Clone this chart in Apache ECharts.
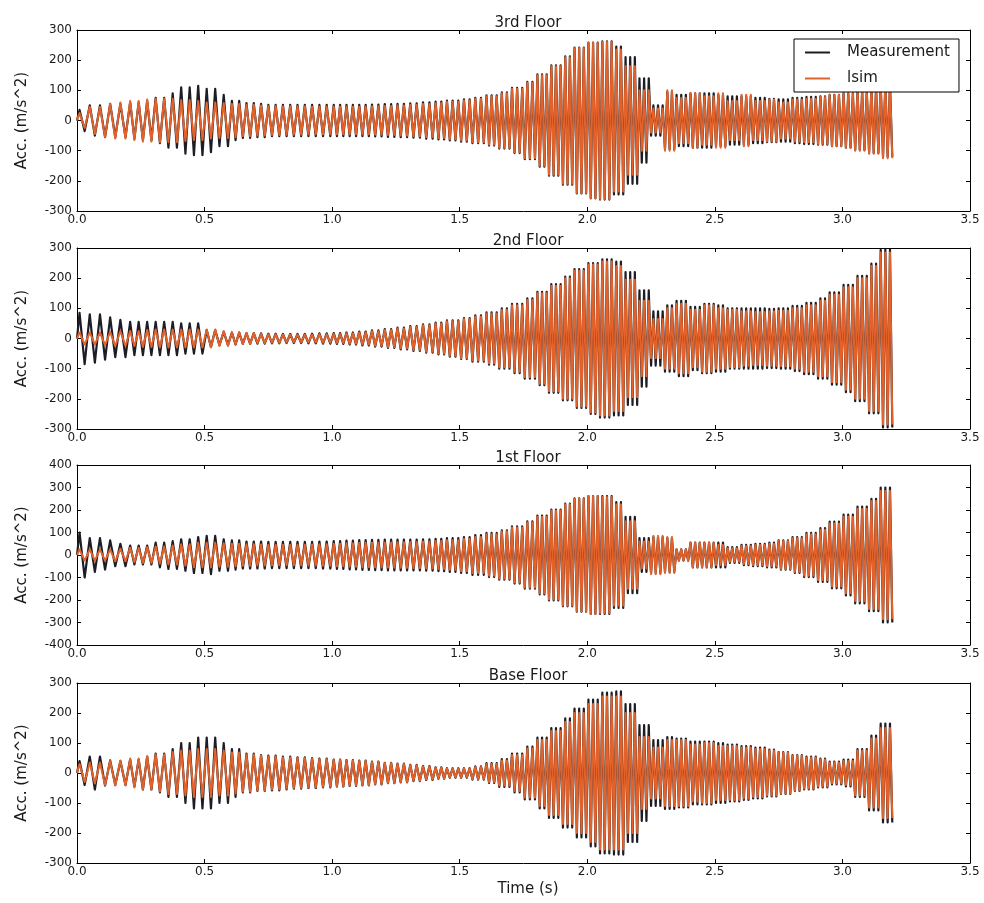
<!DOCTYPE html>
<html>
<head>
<meta charset="utf-8">
<script src="https://cdn.jsdelivr.net/npm/echarts@6/dist/echarts.min.js"></script>
<style>
html,body{margin:0;padding:0;background:#fff;}
#chart{width:984px;height:903px;}
</style>
</head>
<body>
<div id="chart"></div>
<script>
// ---------- data ----------
const panelTitles = ['3rd Floor', '2nd Floor', '1st Floor', 'Base Floor'];
const seriesNames = ['Measurement', 'lsim'];
const xTicks = [0.0, 0.5, 1.0, 1.5, 2.0, 2.5, 3.0, 3.5];
const yRanges = [[-300, 300], [-300, 300], [-400, 400], [-300, 300]];

// oscillation cycles counted in each 0.2 s window (0.0-0.2, 0.2-0.4, ... 3.0-3.2)
const cyclesPerWindow = [5, 6, 6, 7, 7, 8, 8, 9, 10, 11, 11, 11, 11, 11, 11, 11];

// peak amplitude (m/s^2) per 0.05 s window, 0.00 .. 3.15
const meas3rd = [35,50,55,55,60,65,75,90,110,115,105,85,65,58,55,52,52,52,52,52,
  52,52,52,53,54,55,57,60,63,66,70,75,83,93,108,128,153,183,213,242,
  258,262,245,210,140,50,95,85,90,90,85,80,80,75,72,70,75,78,80,85,
  90,98,108,120];
const lsim3rd = [25,45,55,60,65,70,72,72,68,65,60,58,55,52,50,48,47,47,46,46,
  46,46,46,47,48,50,52,55,58,62,66,72,80,90,105,125,150,180,210,240,
  258,260,235,180,100,40,100,75,90,80,90,65,85,65,70,60,70,72,78,85,
  90,100,110,125];

const meas2nd = [85,80,70,62,55,55,55,55,50,50,28,22,20,18,17,16,15,15,16,17,
  18,20,23,27,31,36,41,47,53,60,68,77,87,100,115,133,155,180,205,230,
  250,262,255,220,160,90,110,125,105,115,110,100,100,100,98,100,108,118,133,153,
  178,208,248,295];
const lsim2nd = [20,20,22,25,25,28,30,30,30,30,30,25,20,18,15,14,13,13,13,14,
  15,17,20,24,28,33,38,44,50,57,65,73,83,95,110,128,150,175,200,225,
  245,255,240,195,125,65,100,115,95,110,100,95,90,88,90,92,100,110,125,145,
  170,200,240,285];

const meas1st = [100,75,65,50,42,42,55,62,70,80,85,70,65,60,60,58,58,58,58,60,
  62,64,66,67,68,68,68,70,72,75,80,88,98,110,127,150,175,202,228,252,
  262,262,235,170,75,80,75,25,55,55,55,35,45,50,55,65,80,98,120,148,
  180,215,250,300];
const lsim1st = [25,25,25,28,32,35,38,42,48,55,55,52,50,48,47,46,46,46,47,48,
  50,52,54,55,56,57,58,60,62,66,72,80,92,105,122,145,170,198,225,250,
  262,258,225,150,60,85,80,25,55,55,45,30,40,45,50,62,75,92,112,140,
  170,205,240,285];

const measBase = [40,55,42,40,45,55,65,80,100,118,118,100,80,65,60,58,55,52,50,48,
  45,43,41,38,34,31,27,23,19,16,16,22,33,46,65,88,118,150,182,215,
  245,268,272,230,160,110,120,115,105,105,100,95,90,85,78,70,60,55,48,38,
  45,80,125,165];
const lsimBase = [30,35,40,42,48,55,62,70,75,80,80,75,68,62,58,55,52,50,48,46,
  44,42,40,37,33,30,26,22,18,15,15,20,30,42,60,82,110,140,170,200,
  230,255,255,200,120,85,110,110,95,100,90,90,85,80,75,68,58,52,45,35,
  40,75,115,150];

const panelData = [
  [meas3rd, lsim3rd],
  [meas2nd, lsim2nd],
  [meas1st, lsim1st],
  [measBase, lsimBase]
];

// ---------- build peaks / troughs for each cycle ----------
function buildPoints(env) {
  const pts = [[0, 0]];
  cyclesPerWindow.forEach(function (n, w) {
    const T = 0.2 / n;
    for (let k = 0; k < n; k++) {
      const t0 = 0.2 * w + k * T;
      const tp = t0 + T / 4, tn = t0 + 3 * T / 4;
      const ip = Math.min(env.length - 1, Math.floor(tp / 0.05 + 1e-9));
      const inn = Math.min(env.length - 1, Math.floor(tn / 0.05 + 1e-9));
      pts.push([tp, env[ip]]);
      pts.push([tn, -env[inn]]);
    }
  });
  return pts;
}

// ---------- layout ----------
const FONT = 'DejaVu Sans';
const TXT = '#1a1a1a';
const gridTops = [30, 248, 465, 683];
const gridHeights = [181, 181, 180, 180];
const colors = ['#1d1d26', '#e2622c'];
const widths = [2.2, 2.0];

const grids = [], xAxes = [], yAxes = [], series = [], titles = [];
gridTops.forEach(function (top, i) {
  grids.push({ left: 77, right: 14, top: top, height: gridHeights[i] });
  titles.push({
    text: panelTitles[i], left: 523, top: top - 19, textAlign: 'center',
    textStyle: { fontFamily: FONT, fontSize: 15, fontWeight: 'normal', color: TXT }
  });
  const axisLine = { show: true, onZero: false, lineStyle: { color: '#000', width: 1 } };
  const tick = { show: true, inside: true, length: 4, lineStyle: { color: '#000' } };
  xAxes.push({
    gridIndex: i, type: 'value', min: 0, max: 3.5, interval: 0.5,
    axisLine: axisLine, axisTick: tick, splitLine: { show: false },
    axisLabel: { margin: 3, fontFamily: FONT, fontSize: 12, color: TXT,
      formatter: function (v) { return v.toFixed(1); } }
  });
  xAxes.push({
    gridIndex: i, type: 'value', min: 0, max: 3.5, interval: 0.5, position: 'top',
    axisLine: axisLine, axisTick: tick, splitLine: { show: false }, axisLabel: { show: false }
  });
  yAxes.push({
    gridIndex: i, type: 'value', min: yRanges[i][0], max: yRanges[i][1], interval: 100,
    axisLine: axisLine, axisTick: tick, splitLine: { show: false },
    axisLabel: { margin: 5, fontFamily: FONT, fontSize: 12, color: TXT },
    name: 'Acc. (m/s^2)', nameLocation: 'middle', nameRotate: 90, nameGap: 47,
    nameTextStyle: { fontFamily: FONT, fontSize: 15, color: TXT }
  });
  yAxes.push({
    gridIndex: i, type: 'value', min: yRanges[i][0], max: yRanges[i][1], interval: 100,
    position: 'right',
    axisLine: axisLine, axisTick: tick, splitLine: { show: false }, axisLabel: { show: false }
  });
  panelData[i].forEach(function (env, s) {
    series.push({
      name: seriesNames[s], type: 'line',
      xAxisIndex: 2 * i, yAxisIndex: 2 * i,
      data: buildPoints(env),
      showSymbol: false, symbol: 'none', sampling: null, smooth: false,
      lineStyle: { color: colors[s], width: widths[s], join: 'round' },
      itemStyle: { color: colors[s] },
      z: 2 + s, silent: true
    });
  });
});

titles.push({
  text: 'Time (s)', left: 523, top: 877, textAlign: 'center',
  textStyle: { fontFamily: FONT, fontSize: 15, fontWeight: 'normal', color: TXT }
});

const chart = echarts.init(document.getElementById('chart'), null, { renderer: 'canvas' });
chart.setOption({
  animation: false,
  backgroundColor: '#fff',
  title: titles,
  grid: grids,
  xAxis: xAxes,
  yAxis: yAxes,
  legend: {
    data: [
      { name: seriesNames[0], icon: 'rect' },
      { name: seriesNames[1], icon: 'rect' }
    ],
    orient: 'vertical', left: 794, top: 39,
    itemWidth: 25, itemHeight: 2, itemGap: 11,
    padding: [6, 9, 6, 11],
    borderColor: '#000', borderWidth: 1, backgroundColor: '#fff',
    textStyle: { fontFamily: FONT, fontSize: 15, color: TXT, padding: [0, 0, 0, 12], lineHeight: 14 },
    selectedMode: false, z: 10
  },
  series: series
});
</script>
</body>
</html>
